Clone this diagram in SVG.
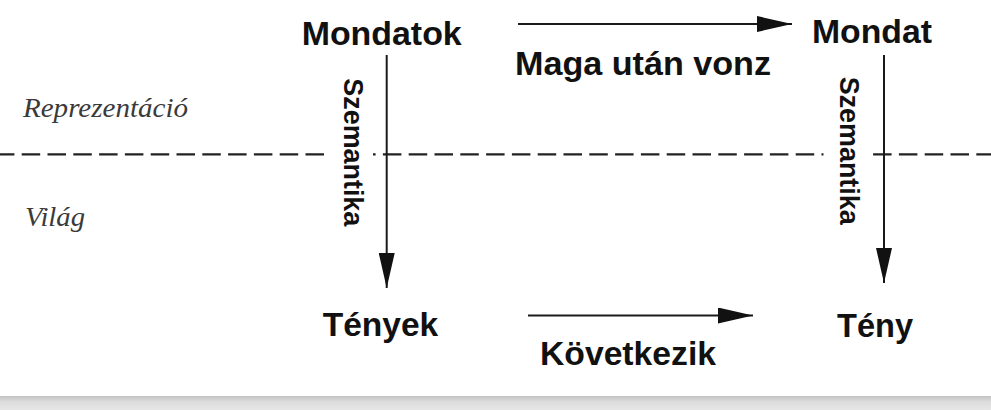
<svg xmlns="http://www.w3.org/2000/svg" width="991" height="410" viewBox="0 0 991 410">
  <style>
    .node { font-family: "Liberation Sans", Arial, sans-serif; font-weight: bold; font-size: 34px; fill: #111; }
    .rel { font-family: "Liberation Sans", Arial, sans-serif; font-weight: bold; font-size: 27px; fill: #111; }
    .layer { font-family: "Liberation Serif", "Times New Roman", serif; font-style: italic; font-size: 28px; fill: #3a3a3a; }
    .conn { stroke: #1a1a1a; stroke-width: 2; fill: none; }
    .sep { stroke: #222; stroke-width: 2.2; stroke-dasharray: 18.5 7.3; stroke-dashoffset: 4.1; fill: none; }
  </style>
  <defs>
    <marker id="ah" markerUnits="userSpaceOnUse" viewBox="0 0 35 16" refX="35" refY="8" markerWidth="35" markerHeight="16" orient="auto">
      <path d="M0,0 L35,8 L0,16 z" fill="#111"/>
    </marker>
    <linearGradient id="band" x1="0" y1="0" x2="0" y2="1">
      <stop offset="0" stop-color="#c2c2c2"/>
      <stop offset="0.4" stop-color="#dcdcdc"/>
      <stop offset="1" stop-color="#e6e6e6"/>
    </linearGradient>
  </defs>
  <rect x="0" y="0" width="991" height="410" fill="#fff"/>
  <rect x="0" y="396" width="991" height="14" fill="url(#band)"/>

  <g id="layers">
    <line class="sep" x1="0" y1="154.3" x2="991" y2="154.3"/>
    <text class="layer" x="23" y="117" textLength="165" lengthAdjust="spacingAndGlyphs">Reprezentáció</text>
    <text class="layer" x="25" y="226" textLength="60" lengthAdjust="spacingAndGlyphs">Világ</text>
  </g>

  <g id="connectors">
    <line class="conn" x1="518" y1="24" x2="792" y2="24" marker-end="url(#ah)"/>
    <line class="conn" x1="528" y1="315.5" x2="753" y2="315.5" marker-end="url(#ah)"/>
    <g id="label-szem-left">
      <rect x="329" y="146" width="44" height="16" fill="#fff"/>
      <text class="rel" transform="translate(343.5,78.3) rotate(90)" textLength="148" lengthAdjust="spacingAndGlyphs">Szemantika</text>
    </g>
    <g id="label-szem-right">
      <rect x="823.5" y="146" width="49" height="16" fill="#fff"/>
      <text class="rel" transform="translate(840,76.7) rotate(90)" textLength="148" lengthAdjust="spacingAndGlyphs">Szemantika</text>
    </g>
    <line class="conn" x1="386.7" y1="55" x2="386.7" y2="288" marker-end="url(#ah)"/>
    <line class="conn" x1="884" y1="55" x2="884" y2="283" marker-end="url(#ah)"/>
    <text class="node" x="515" y="74.5" textLength="256" lengthAdjust="spacingAndGlyphs">Maga után vonz</text>
    <text class="node" x="540" y="365" textLength="176" lengthAdjust="spacingAndGlyphs">Következik</text>
  </g>

  <g id="mondatok">
    <text class="node" x="301.7" y="45" textLength="160" lengthAdjust="spacingAndGlyphs">Mondatok</text>
  </g>
  <g id="mondat">
    <text class="node" x="812" y="43.3" textLength="120" lengthAdjust="spacingAndGlyphs">Mondat</text>
  </g>
  <g id="tenyek">
    <text class="node" x="322.7" y="336" textLength="115.6" lengthAdjust="spacingAndGlyphs">Tények</text>
  </g>
  <g id="teny">
    <text class="node" x="837" y="336.7" textLength="76" lengthAdjust="spacingAndGlyphs">Tény</text>
  </g>
</svg>
